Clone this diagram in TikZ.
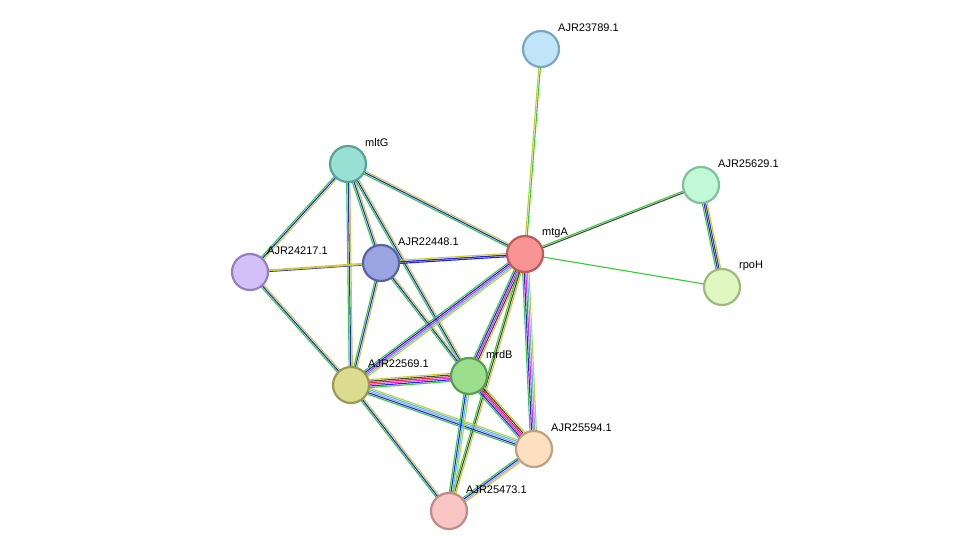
\documentclass[tikz,border=0pt]{standalone}
\usepackage{fontspec}
\setmainfont{Liberation Sans}
\usetikzlibrary{calc}
\definecolor{eg}{HTML}{33CC33}
\definecolor{eb}{HTML}{2222EE}
\definecolor{ey}{HTML}{C8C832}
\definecolor{em}{HTML}{EE22EE}
\definecolor{ec}{HTML}{33CCEE}
\definecolor{ek}{HTML}{444444}
\definecolor{er}{HTML}{EE2222}
\definecolor{ep}{HTML}{A0A0E8}
\tikzset{
  prot/.style={circle,minimum size=36pt,inner sep=0pt,line width=2.2pt},
  lab/.style={anchor=west,font=\fontsize{11}{13}\selectfont,inner sep=0pt},
}
% \edg{a}{b}{colorlist}
\newcommand{\edg}[3]{%
  \foreach \c [count=\i] in {#3} {\xdef\nn{\i}}%
  \foreach \c [count=\i] in {#3} {%
    \pgfmathsetmacro{\off}{(\i-(\nn+1)/2)*1.6}%
    \draw[draw=\c,line width=1.1pt] ($(#1)!\off pt!90:(#2)$) -- ($(#2)!\off pt!-90:(#1)$);%
  }%
}
\begin{document}
\begin{tikzpicture}[x=1pt,y=-1pt]
\useasboundingbox (0,0) rectangle (976,557);
\coordinate (pA) at (541,49);
\coordinate (pM) at (348,164);
\coordinate (pC) at (701,185);
\coordinate (pD) at (381,263);
\coordinate (pT) at (525,254);
\coordinate (pE) at (250,272);
\coordinate (pR) at (722,287);
\coordinate (pF) at (351,385);
\coordinate (pB) at (469,376);
\coordinate (pG) at (534,449);
\coordinate (pH) at (449,511);
\edg{pT}{pA}{eg,ey}
\edg{pT}{pC}{ek,eg}
\edg{pT}{pR}{eg}
\edg{pC}{pR}{eg,eb,ek,ey}
\edg{pM}{pE}{eg,eb,ey}
\edg{pM}{pD}{eg,eb,ey}
\edg{pM}{pT}{eg,eb,ey}
\edg{pM}{pF}{eg,eb,ey}
\edg{pM}{pB}{eg,eb,ey}
\edg{pE}{pD}{eb,ey}
\edg{pE}{pT}{ey}
\edg{pE}{pF}{eg,eb,ey}
\edg{pD}{pT}{eb,eb,ey}
\edg{pD}{pF}{eg,eb,ey}
\edg{pD}{pB}{eg,eb,ey}
\edg{pT}{pF}{eg,eb,em,ec,ey}
\edg{pT}{pB}{eg,eb,em,ek,ey}
\edg{pT}{pG}{eg,eb,em,ec,ey}
\edg{pT}{pH}{eg,ek,ey}
\edg{pF}{pB}{eg,eb,em,er,ek,ey}
\edg{pF}{pG}{eg,eb,ep,ec,ey}
\edg{pF}{pH}{eg,eb,ey}
\edg{pB}{pG}{eg,eb,em,er,ek,ey}
\edg{pB}{pH}{eg,eb,ec,ey}
\edg{pG}{pH}{eg,eb,ep,ey}
\node[prot,fill={rgb,255:red,192;green,228;blue,248},draw={rgb,255:red,123;green,165;blue,192}] (A) at (pA) {};
\node[prot,fill={rgb,255:red,153;green,224;blue,212},draw={rgb,255:red,90;green,161;blue,151}] (M) at (pM) {};
\node[prot,fill={rgb,255:red,192;green,248;blue,216},draw={rgb,255:red,128;green,192;blue,154}] (C) at (pC) {};
\node[prot,fill={rgb,255:red,154;green,164;blue,224},draw={rgb,255:red,90;green,100;blue,160}] (D) at (pD) {};
\node[prot,fill={rgb,255:red,249;green,148;blue,148},draw={rgb,255:red,192;green,90;blue,90}] (T) at (pT) {};
\node[prot,fill={rgb,255:red,212;green,192;blue,248},draw={rgb,255:red,148;green,128;blue,192}] (E) at (pE) {};
\node[prot,fill={rgb,255:red,224;green,248;blue,192},draw={rgb,255:red,160;green,184;blue,128}] (R) at (pR) {};
\node[prot,fill={rgb,255:red,220;green,220;blue,144},draw={rgb,255:red,154;green,154;blue,80}] (F) at (pF) {};
\node[prot,fill={rgb,255:red,154;green,222;blue,142},draw={rgb,255:red,90;green,158;blue,80}] (B) at (pB) {};
\node[prot,fill={rgb,255:red,253;green,224;blue,192},draw={rgb,255:red,192;green,160;blue,128}] (G) at (pG) {};
\node[prot,fill={rgb,255:red,248;green,196;blue,196},draw={rgb,255:red,192;green,138;blue,138}] (H) at (pH) {};
\node[lab] (lA) at ($(pA)+(17,-21)$) {AJR23789.1};
\node[lab] (lM) at ($(pM)+(17,-21)$) {mltG};
\node[lab] (lC) at ($(pC)+(17,-21)$) {AJR25629.1};
\node[lab] (lD) at ($(pD)+(17,-21)$) {AJR22448.1};
\node[lab] (lT) at ($(pT)+(17,-21)$) {mtgA};
\node[lab] (lE) at ($(pE)+(17,-21)$) {AJR24217.1};
\node[lab] (lR) at ($(pR)+(17,-21)$) {rpoH};
\node[lab] (lF) at ($(pF)+(17,-21)$) {AJR22569.1};
\node[lab] (lB) at ($(pB)+(17,-21)$) {mrdB};
\node[lab] (lG) at ($(pG)+(17,-21)$) {AJR25594.1};
\node[lab] (lH) at ($(pH)+(17,-21)$) {AJR25473.1};
\end{tikzpicture}
\end{document}
